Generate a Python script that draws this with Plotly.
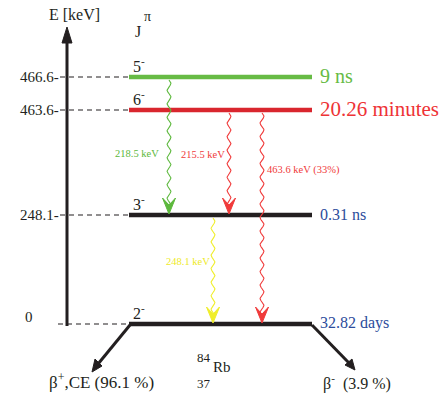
import numpy as np
import plotly.graph_objects as go

# ---- data ----
energies = [0.0, 248.1, 463.6, 466.6]          # keV
energy_labels = ["0", "248.1", "463.6", "466.6"]
spins = ["2", "3", "6", "5"]
lifetimes = ["32.82 days", "0.31 ns", "20.26 minutes", "9 ns"]
level_rows = [324, 215, 110, 77]                 # schematic (not-to-scale) rows
level_colors = ["#231f20", "#231f20", "#d9262e", "#67bb45"]
life_colors = ["#2b4c9b", "#2b4c9b", "#ee3336", "#67bb45"]
life_sizes = [16, 16, 21, 20]

# transitions
trans_from = [3, 2, 2, 1]
trans_to = [1, 1, 0, 0]
trans_labels = ["218.5 keV", "215.5 keV", "463.6 keV (33%)", "248.1 keV"]
trans_colors = ["#5cb83c", "#f03a3a", "#f03a3a", "#f0ee2a"]
trans_cols = [169, 229, 262, 213]

FONT = "Liberation Serif"
LX0, LX1 = 129, 312
AXX = 67

fig = go.Figure()

def add_line(xs, ys, color, width, dash=None):
    fig.add_trace(go.Scatter(x=xs, y=ys, mode="lines", hoverinfo="skip",
                             line=dict(color=color, width=width, dash=dash),
                             showlegend=False))

def add_poly(xs, ys, color):
    fig.add_trace(go.Scatter(x=xs, y=ys, mode="lines", fill="toself",
                             fillcolor=color, hoverinfo="skip",
                             line=dict(color=color, width=1), showlegend=False))

def text(x, y, s, size, color="#231f20", xanchor="left", yanchor="middle"):
    fig.add_annotation(x=x, y=y, text=s, showarrow=False,
                       xanchor=xanchor, yanchor=yanchor,
                       font=dict(family=FONT, size=size, color=color))

# energy axis arrow
add_line([AXX, AXX], [326, 40], "#231f20", 3)
add_poly([AXX - 5, AXX, AXX + 5, AXX - 5], [43, 27, 43, 43], "#231f20")
text(74, 14, "E [keV]", 16, xanchor="center")
text(133, 31, "J", 16)
text(142, 16, "π", 14)

# levels
for e_lab, sp, life, row, lc, tc, ts in zip(energy_labels, spins, lifetimes,
                                            level_rows, level_colors, life_colors, life_sizes):
    add_line([60 if e_lab != "0" else 58, LX0], [row, row], "#231f20", 1.2, dash="5px,4px")
    add_line([LX0, LX1], [row, row], lc, 4.5)
    if e_lab == "0":
        text(29, row - 7, e_lab, 15, xanchor="center")
    else:
        text(61, row, e_lab + "-", 15, xanchor="right")
    text(131, row - 12, sp + "<sup>-</sup>", 16)
    text(318, row - 1, life, ts, color=tc)

# transitions (wavy gamma lines with notched arrowheads)
for f, t, lab, col, cx in zip(trans_from, trans_to, trans_labels, trans_colors, trans_cols):
    y0 = level_rows[f] + 3
    yt = level_rows[t] - 1
    ys = np.linspace(y0, yt - 8, 300)
    xs = cx + 1.9 * np.sin(2 * np.pi * (ys - y0) / 13.5)
    add_line(xs, ys, col, 1.1)
    add_poly([cx, cx - 6.5, cx, cx + 6.5, cx], [yt, yt - 16, yt - 9, yt - 16, yt], col)

text(161, 153, trans_labels[0], 10.5, color=trans_colors[0], xanchor="right")
text(227, 154, trans_labels[1], 10.5, color=trans_colors[1], xanchor="right")
text(265, 170, trans_labels[2], 10.5, color=trans_colors[2], xanchor="left")
text(212, 261, trans_labels[3], 10.5, color="#eeea28", xanchor="right")

# beta decay arrows
add_line([LX0 + 1, 98], [325, 364], "#231f20", 3)
add_poly([92, 95, 102, 92], [372, 359, 366, 372], "#231f20")
add_line([LX1, 349], [325, 363], "#231f20", 3)
add_poly([355, 345, 352, 355], [370, 365, 359, 370], "#231f20")
text(47, 381, "β<sup>+</sup>,CE (96.1 %)", 17)
text(321, 382, "β<sup>-</sup>&nbsp; (3.9 %)", 16)

# nuclide
text(195, 357, "84", 13)
text(211, 367, "Rb", 15)
text(195, 383, "37", 13)

fig.update_layout(
    width=445, height=395,
    margin=dict(l=0, r=0, t=0, b=0),
    paper_bgcolor="white", plot_bgcolor="white",
    font=dict(family=FONT),
    xaxis=dict(range=[0, 445], visible=False, fixedrange=True),
    yaxis=dict(range=[395, 0], visible=False, fixedrange=True),
    showlegend=False,
)
fig.write_html("out.html")
